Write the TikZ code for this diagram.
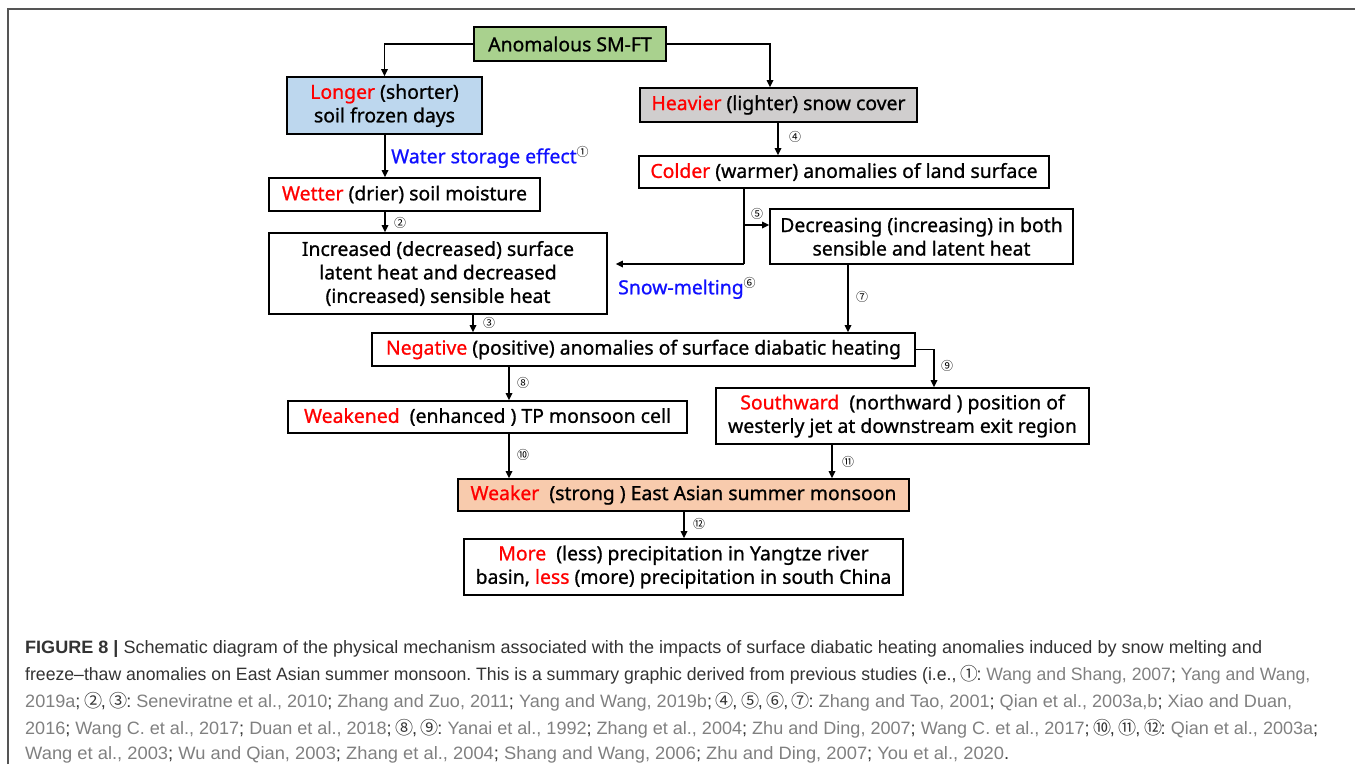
\documentclass[tikz,border=0pt]{standalone}
\usepackage{fontspec}
\setmainfont{Noto Sans}
\newfontfamily\boxfont[FakeBold=0.9]{Noto Sans}
\newfontfamily\cjk{Noto Sans CJK SC}
\newfontfamily\capfont{Liberation Sans}
\usetikzlibrary{arrows.meta}
\frenchspacing
\definecolor{gfill}{HTML}{A9D18E}
\definecolor{bfill}{HTML}{BDD7EE}
\definecolor{grfill}{HTML}{D0CECE}
\definecolor{pfill}{HTML}{F8CBAD}
\definecolor{rtxt}{HTML}{FF0000}
\definecolor{btxt}{HTML}{1010FF}
\definecolor{capdark}{HTML}{333333}
\definecolor{capgray}{HTML}{808080}
\definecolor{framec}{HTML}{555555}
\newcommand\rd[1]{\textcolor{rtxt}{#1}}
\newcommand\cg[1]{\textcolor{capgray}{#1}}
\newcommand\cc[1]{\makebox[0.85em][c]{\cjk #1}}
\newcommand\supnum[1]{\raisebox{7pt}{\textcolor{black}{\fontsize{12}{12}\selectfont\cjk #1}}}
\newcommand\capline[2]{\resizebox{#1}{\height}{#2}}
\begin{document}
\begin{tikzpicture}[x=1pt,y=-1pt,
  bx/.style={draw, line width=1.6pt, inner sep=0pt, align=center,
     font=\boxfont\fontsize{19.4}{23.5}\selectfont},
  arr/.style={line width=1.6pt, -{Triangle[length=7pt,width=6.5pt]}},
  ln/.style={line width=1.6pt},
  num/.style={font=\fontsize{12}{12}\selectfont\cjk, inner sep=0pt},
  lbl/.style={font=\boxfont\fontsize{19.4}{22}\selectfont, text=btxt, inner sep=0pt},
  capl/.style={anchor=base west, inner sep=0pt, font=\capfont\fontsize{17.9}{20}\selectfont, text=capdark}]
\useasboundingbox (0,0) rectangle (1355,764);
\draw[framec, line width=2pt] (8,764) -- (8,9) -- (1355,9);

% boxes
\node[bx, fill=gfill, minimum width=192, minimum height=34] (anom) at (570,44) {Anomalous SM-FT};
\node[bx, fill=bfill, minimum width=195, minimum height=57] (longer) at (384.5,105.5) {\rd{Longer} (shorter)\\soil frozen days};
\node[bx, fill=grfill, minimum width=277, minimum height=34] (heavier) at (778.5,105) {\rd{Heavier} (lighter) snow cover};
\node[bx, minimum width=410, minimum height=32] (colder) at (844,172) {\rd{Colder} (warmer) anomalies of land surface};
\node[bx, minimum width=271, minimum height=33] (wetter) at (404.5,194.5) {\rd{Wetter} (drier) soil moisture};
\node[bx, minimum width=338, minimum height=81] (increased) at (438,273.5) {Increased (decreased) surface\\latent heat and decreased\\(increased) sensible heat};
\node[bx, minimum width=303, minimum height=55] (decreasing) at (921.5,236.5) {Decreasing (increasing) in both\\sensible and latent heat};
\node[bx, minimum width=543, minimum height=33] (negative) at (643.5,349.5) {\rd{Negative} (positive) anomalies of surface diabatic heating};
\node[bx, minimum width=399, minimum height=32] (weakened) at (487.5,417) {\rd{Weakened}\ \ (enhanced ) TP monsoon cell};
\node[bx, minimum width=373, minimum height=56] (southward) at (902.5,416) {\rd{Southward}\ \ (northward ) position of\\westerly jet at downstream exit region};
\node[bx, fill=pfill, minimum width=451, minimum height=32] (weaker) at (683.5,495) {\rd{Weaker}\ \ (strong ) East Asian summer monsoon};
\node[bx, minimum width=439, minimum height=56] (more) at (683.5,567) {\rd{More}\ \ (less) precipitation in Yangtze river\\basin, \rd{less} (more) precipitation in south China};

% helper coordinates
\coordinate (lx) at (385,0);
\coordinate (hx) at (770,0);
\coordinate (cbtop) at (744,188);
\coordinate (cmid) at (744,225);
\coordinate (cbot) at (744,264);
\coordinate (dx) at (848,0);
\coordinate (ix) at (473,0);
\coordinate (wx) at (509,0);
\coordinate (jx) at (934,0);
\coordinate (sx) at (832,0);
\coordinate (mx) at (684,0);
\coordinate (fx) at (778,0);

% connectors
\draw[arr] (anom.west) -| (longer.north);
\draw[arr] (anom.east) -| (hx |- heavier.north);
\draw[arr] (fx |- heavier.south) -- (fx |- colder.north);
\draw[arr] (lx |- longer.south) -- (lx |- wetter.north);
\draw[arr] (lx |- wetter.south) -- (lx |- increased.north);
\draw[ln] (cbtop) -- (cbot);
\draw[arr] (cmid) -- (cmid -| decreasing.west);
\draw[arr, shorten >=8pt] (cbot) -- (cbot -| increased.east);
\draw[arr] (dx |- decreasing.south) -- (dx |- negative.north);
\draw[arr] (ix |- increased.south) -- (ix |- negative.north);
\draw[arr] (wx |- negative.south) -- (wx |- weakened.north);
\draw[arr] (negative.east) -| (jx |- southward.north);
\draw[arr] (wx |- weakened.south) -- (wx |- weaker.north);
\draw[arr] (sx |- southward.south) -- (sx |- weaker.north);
\draw[arr] (mx |- weaker.south) -- (mx |- more.north);

% labels
\node[lbl, anchor=west] (wse) at (391,157) {Water storage effect\supnum{①}};
\node[lbl, anchor=west] (snow) at (618,288) {Snow-melting\supnum{⑥}};
\node[num] (n2) at (400,223) {②};
\node[num] (n3) at (489,323) {③};
\node[num] (n4) at (795,137) {④};
\node[num] (n5) at (757,214) {⑤};
\node[num] (n7) at (862,297) {⑦};
\node[num] (n8) at (523,383) {⑧};
\node[num] (n9) at (947,366) {⑨};
\node[num] (n10) at (523,455) {⑩};
\node[num] (n11) at (848,462) {⑪};
\node[num] (n12) at (699,524) {⑫};

% caption
\node[capl] (c1) at (25,653) {\capline{1237pt}{\textbf{FIGURE 8 |} Schematic diagram of the physical mechanism associated with the impacts of surface diabatic heating anomalies induced by snow melting and}};
\node[capl] (c2) at (25,680) {\capline{1285pt}{freeze–thaw anomalies on East Asian summer monsoon. This is a summary graphic derived from previous studies (i.e., \cc{①}: \cg{Wang and Shang, 2007}; \cg{Yang and Wang,}}};
\node[capl] (c3) at (25,707) {\capline{1267pt}{\cg{2019a}; \cc{②}, \cc{③}: \cg{Seneviratne et al., 2010}; \cg{Zhang and Zuo, 2011}; \cg{Yang and Wang, 2019b}; \cc{④}, \cc{⑤}, \cc{⑥}, \cc{⑦}: \cg{Zhang and Tao, 2001}; \cg{Qian et al., 2003a,b}; \cg{Xiao and Duan,}}};
\node[capl] (c4) at (25,734) {\capline{1293pt}{\cg{2016}; \cg{Wang C. et al., 2017}; \cg{Duan et al., 2018}; \cc{⑧}, \cc{⑨}: \cg{Yanai et al., 1992}; \cg{Zhang et al., 2004}; \cg{Zhu and Ding, 2007}; \cg{Wang C. et al., 2017}; \cc{⑩}, \cc{⑪}, \cc{⑫}: \cg{Qian et al., 2003a};}};
\node[capl] (c5) at (25,759) {\capline{984pt}{\cg{Wang et al., 2003}; \cg{Wu and Qian, 2003}; \cg{Zhang et al., 2004}; \cg{Shang and Wang, 2006}; \cg{Zhu and Ding, 2007}; \cg{You et al., 2020}.}};
\end{tikzpicture}
\end{document}
